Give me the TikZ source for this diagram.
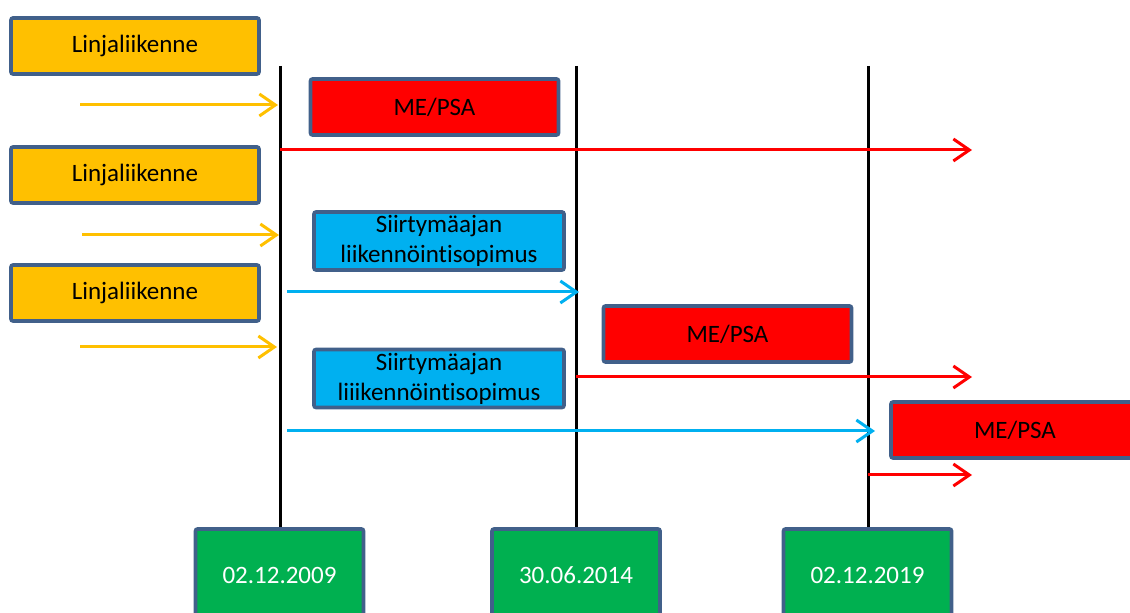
\documentclass[tikz,border=0pt]{standalone}
\usepackage{fontspec}
\setmainfont{Carlito}[Ligatures={NoCommon}]
\usetikzlibrary{arrows.meta, positioning}
\definecolor{frame}{HTML}{41608A}
\definecolor{amber}{HTML}{FFC000}
\definecolor{psared}{HTML}{FF0000}
\definecolor{skyblue}{HTML}{00B0F0}
\definecolor{datagreen}{HTML}{00B050}

\begin{document}
\begin{tikzpicture}[
    x=0.5pt, y=-0.5pt,
    box/.style={draw=frame, line width=1.8pt, rounded corners=1pt, inner sep=0pt,
        minimum width=124pt, minimum height=28pt, align=center,
        font=\fontsize{12.5}{15}\selectfont},
    linja/.style={box, fill=amber},
    psa/.style={box, fill=psared},
    siirto/.style={box, fill=skyblue, minimum width=125pt, minimum height=29pt},
    datebox/.style={box, fill=datagreen, text=white, minimum width=84pt, minimum height=46pt},
    timeline/.style={draw, line width=1.5pt, black},
    flow/.style={line width=1.5pt, -{Straight Barb[length=8pt, width=11pt, line width=1.5pt]}}
]
    \useasboundingbox (0,0) rectangle (1130,613);
    \clip (0,0) rectangle (1130,613);

    % Dates
    \node[datebox] (D1) at (279.5,575) {02.12.2009};
    \node[datebox] (D2) at (576,575) {30.06.2014};
    \node[datebox] (D3) at (867.5,575) {02.12.2019};

    % Tops of the time lines
    \coordinate (T1) at (280,66);
    \coordinate (T2) at (576,66);
    \coordinate (T3) at (868,66);
    \draw[timeline] (T1) -- (D1.north -| T1);
    \draw[timeline] (T2) -- (D2.north -| T2);
    \draw[timeline] (T3) -- (D3.north -| T3);

    % Boxes
    \node[linja] (L1) at (135,46) {Linjaliikenne};
    \node[linja] (L2) at (135,175) {Linjaliikenne};
    \node[linja] (L3) at (135,293) {Linjaliikenne};
    \node[psa] (P1) at (434.5,107) {ME/PSA};
    \node[psa] (P2) at (727.5,334) {ME/PSA};
    \node[psa] (P3) at (1015,430) {ME/PSA};
    \node[siirto] (S1) at (439,241) {Siirtymäajan\\liikennöintisopimus};
    \node[siirto] (S2) at (439,378.5) {Siirtymäajan\\liiikennöintisopimus};

    % Arrow ends
    \coordinate (a1) at (80,105);   \coordinate (b1) at (278,105);
    \coordinate (a2) at (82,235);   \coordinate (b2) at (279,235);
    \coordinate (a3) at (80,347);   \coordinate (b3) at (277,347);
    \coordinate (r1) at (972,150);
    \coordinate (c1) at (287,292);  \coordinate (e1) at (579,292);
    \coordinate (r2) at (972,377);
    \coordinate (c2) at (287,431);  \coordinate (e2) at (875,431);
    \coordinate (r3) at (972,475);

    % Flows
    \draw[flow, amber] (a1) -- (b1);
    \draw[flow, amber] (a2) -- (b2);
    \draw[flow, amber] (a3) -- (b3);
    \draw[flow, psared] (r1 -| T1) -- (r1);
    \draw[flow, skyblue] (c1) -- (e1);
    \draw[flow, psared] (r2 -| T2) -- (r2);
    \draw[flow, skyblue] (c2) -- (e2);
    \draw[flow, psared] (r3 -| T3) -- (r3);
\end{tikzpicture}
\end{document}
